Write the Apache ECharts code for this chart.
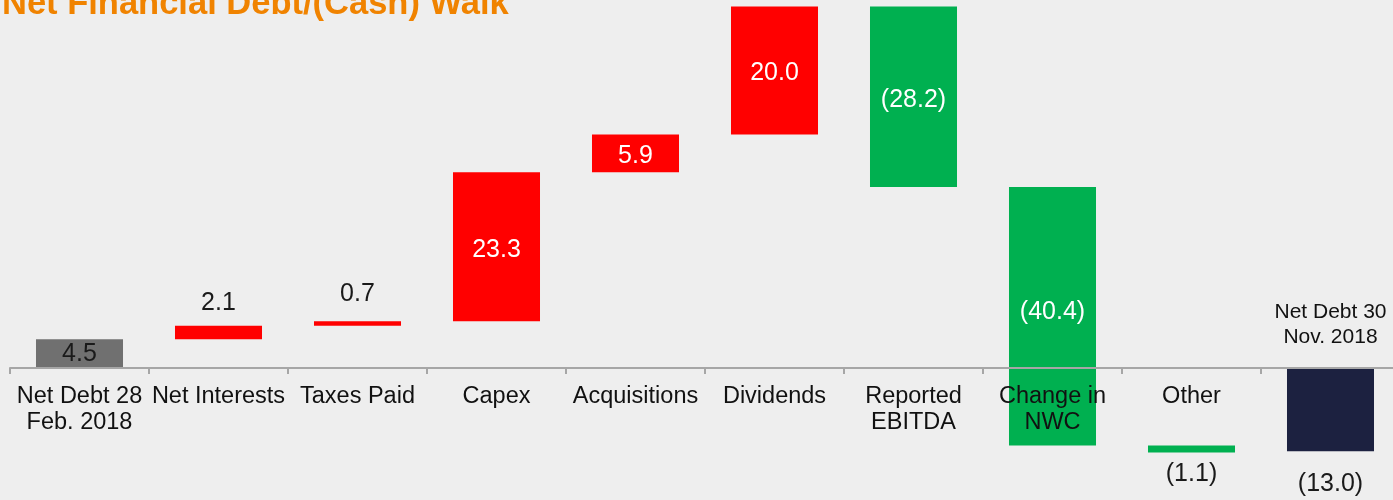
<!DOCTYPE html>
<html>
<head>
<meta charset="utf-8">
<title>Net Financial Debt/(Cash) Walk</title>
<script src="https://cdn.jsdelivr.net/npm/echarts@6/dist/echarts.min.js"></script>
<style>
  html, body { margin: 0; padding: 0; background: #eeeeee; }
  #chart { width: 1393px; height: 500px; }
</style>
</head>
<body>
<div id="chart"></div>
<script>
// Walk categories (EUR m), opening balance, movements, closing balance
const categories = [
  'Net Debt 28\nFeb. 2018', 'Net Interests', 'Taxes Paid', 'Capex', 'Acquisitions',
  'Dividends', 'Reported\nEBITDA', 'Change in\nNWC', 'Other', 'Net Debt 30\nNov. 2018'
];
const openingDebt = 4.5;
const movements = [2.1, 0.7, 23.3, 5.9, 20.0, -28.2, -40.4, -1.1];
const closingDebt = -13.0;

const FONT = '"Liberation Sans", Arial, sans-serif';
const COLORS = { open: '#707070', up: '#ff0000', down: '#00b050', close: '#1c2140' };

// Value range and plot box; the category axis sits on the zero line
const Y_MIN = -20, Y_MAX = 57.5;
const GRID_TOP = 0, GRID_HEIGHT = 496;
const zeroOffset = GRID_HEIGHT * (0 - Y_MIN) / (Y_MAX - Y_MIN);

function fmt(v) {
  return v < 0 ? '(' + Math.abs(v).toFixed(1) + ')' : v.toFixed(1);
}

// Floating bars: [index, low, high, value, kind]
const rows = [];
rows.push([0, 0, openingDebt, openingDebt, 'open']);
let level = openingDebt;
movements.forEach((m, k) => {
  const next = level + m;
  rows.push([k + 1, Math.min(level, next), Math.max(level, next), m, m >= 0 ? 'up' : 'down']);
  level = next;
});
rows.push([categories.length - 1, Math.min(0, closingDebt), Math.max(0, closingDebt), closingDebt, 'close']);

function renderItem(params, api) {
  const i = api.value(0);
  const lo = api.value(1);
  const hi = api.value(2);
  const row = rows[params.dataIndex];
  const v = row[3];
  const kind = row[4];
  const top = api.coord([i, hi]);
  const bottom = api.coord([i, lo]);
  const zero = api.coord([i, 0]);
  const band = api.size([1, 0])[0];
  const w = band * 0.626;
  const cx = top[0];
  const cy = (top[1] + bottom[1]) / 2;
  const children = [{
    type: 'rect',
    shape: { x: cx - w / 2, y: top[1], width: w, height: bottom[1] - top[1] },
    style: { fill: COLORS[kind] }
  }];
  let ly = cy + 3, fill = '#ffffff';
  if (kind === 'open') {
    fill = '#1a1a1a';
    ly = cy + 1;
  } else if (kind === 'close') {
    fill = '#1a1a1a';
    ly = bottom[1] + 33;
  } else if (Math.abs(v) < 4) {
    fill = '#1a1a1a';
    ly = kind === 'up' ? cy - 29 : cy + 25;
  } else if (lo < 0) {
    // bar crossing the axis: keep the figure clear of the category text
    ly = cy - 4;
  }
  children.push({
    type: 'text',
    x: cx, y: ly,
    style: { text: fmt(v), fill: fill, font: '25px ' + FONT, align: 'center', verticalAlign: 'middle' }
  });
  if (kind === 'close') {
    children.push({
      type: 'text',
      x: cx, y: zero[1] - 43,
      style: {
        text: categories[i], fill: '#111111', font: '21px ' + FONT,
        align: 'center', verticalAlign: 'middle', lineHeight: 25
      }
    });
  }
  return { type: 'group', children: children };
}

const chart = echarts.init(document.getElementById('chart'), null, { renderer: 'canvas' });
chart.setOption({
  backgroundColor: '#eeeeee',
  animation: false,
  title: {
    text: 'Net Financial Debt/(Cash) Walk',
    left: 2,
    top: -13,
    padding: 0,
    textStyle: { color: '#f08300', fontSize: 34.5, fontWeight: 'bold', fontFamily: FONT }
  },
  grid: {
    left: 10, width: 1390, top: GRID_TOP, height: GRID_HEIGHT,
    containLabel: false, outerBoundsMode: 'none'
  },
  xAxis: {
    type: 'category',
    data: categories,
    z: 10,
    offset: -zeroOffset,
    axisLine: { onZero: false, lineStyle: { color: '#a6a6a6', width: 2 } },
    axisTick: { show: true, length: 6, lineStyle: { color: '#a6a6a6', width: 2 } },
    axisLabel: {
      interval: 0,
      margin: 16,
      color: '#111111',
      fontSize: 23.5,
      lineHeight: 26,
      fontFamily: FONT,
      formatter: (val, idx) => idx === categories.length - 1 ? '' : val
    }
  },
  yAxis: {
    type: 'value',
    min: Y_MIN,
    max: Y_MAX,
    show: false,
    splitLine: { show: false }
  },
  series: [{
    type: 'custom',
    renderItem: renderItem,
    encode: { x: 0, y: [1, 2] },
    data: rows.map(r => [r[0], r[1], r[2]]),
    clip: false
  }]
});
</script>
</body>
</html>
